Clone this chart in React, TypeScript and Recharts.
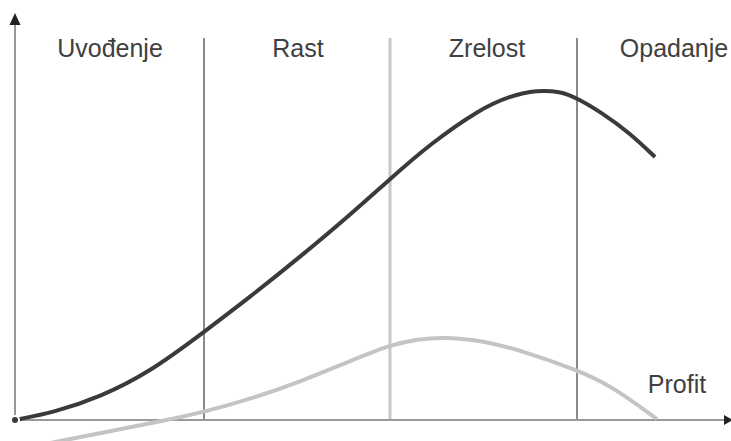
import React from 'react';
import { LineChart, Line, XAxis, YAxis, ReferenceLine, ReferenceDot } from 'recharts';

// Stage labels
const stages = ['Uvođenje', 'Rast', 'Zrelost', 'Opadanje'];
const profitLabel = 'Profit';

// Sales curve (time, value)
const salesTime = [0, 40, 85, 135, 189, 235, 285, 335, 375, 415, 465, 495, 522, 545, 562, 585, 615, 640];
const salesValue = [0, 8, 23, 48, 88, 123, 163, 205, 241, 276, 311, 324, 330, 328.5, 322, 308.5, 287, 263];

// Profit curve (time, value)
const profitTime = [10, 46, 85, 153, 189, 235, 285, 335, 375, 402, 432, 468, 505, 562, 595, 642];
const profitValue = [-28, -21, -13, 0, 8, 21, 38, 59, 75, 81, 83, 79, 70, 50, 35, 1];

// Stage boundaries (time)
const boundaries = [189, 375, 562];

const salesData = salesTime.map((t, i) => ({ t, v: salesValue[i] }));
const profitData = profitTime.map((t, i) => ({ t, v: profitValue[i] }));

const X_DOMAIN: [number, number] = [-15, 716];
const Y_DOMAIN: [number, number] = [-21, 420];
const AXIS_X_END = 709;
const AXIS_Y_END = 395;
const DIVIDER_TOP = 382;
const LABEL_X = [95, 283, 472, 659];
const LABEL_Y = 363;
const FONT = '"Liberation Sans", Arial, sans-serif';

const upArrow = (p: any) => (
  <polygon points={`${p.cx},${p.cy - 12} ${p.cx - 5.5},${p.cy} ${p.cx + 5.5},${p.cy}`} fill="#222" />
);
const rightArrow = (p: any) => (
  <polygon points={`${p.cx + 9},${p.cy} ${p.cx},${p.cy - 5} ${p.cx},${p.cy + 5}`} fill="#222" />
);
const textShape = (txt: string, size: number) => (p: any) => (
  <text x={p.cx} y={p.cy} textAnchor="middle" fontSize={size} fontFamily={FONT} fill="#404040">
    {txt}
  </text>
);

export default function App() {
  return (
    <div style={{ position: 'absolute', left: 0, top: 0, width: 731, height: 441, background: '#fff' }}>
      <LineChart width={731} height={441} margin={{ top: 0, right: 0, bottom: 0, left: 0 }}>
        <XAxis type="number" dataKey="t" domain={X_DOMAIN} hide allowDataOverflow />
        <YAxis type="number" dataKey="v" domain={Y_DOMAIN} hide allowDataOverflow />
        {boundaries.map((b, i) => (
          <ReferenceLine
            key={b}
            segment={[{ x: b, y: 0 }, { x: b, y: DIVIDER_TOP }]}
            stroke={i === 1 ? '#c8c8c8' : '#8a8a8a'}
            strokeWidth={i === 1 ? 3 : 2}
            ifOverflow="visible"
          />
        ))}
        <ReferenceLine segment={[{ x: 0, y: 0 }, { x: 0, y: AXIS_Y_END }]} stroke="#999" strokeWidth={2} ifOverflow="visible" />
        <ReferenceLine segment={[{ x: 0, y: 0 }, { x: AXIS_X_END, y: 0 }]} stroke="#999" strokeWidth={2} ifOverflow="visible" />
        <ReferenceDot x={0} y={AXIS_Y_END} r={0} shape={upArrow} ifOverflow="visible" />
        <ReferenceDot x={AXIS_X_END} y={0} r={0} shape={rightArrow} ifOverflow="visible" />
        <Line data={profitData} dataKey="v" type="basis" stroke="#c4c4c4" strokeWidth={4} dot={false} isAnimationActive={false} />
        <Line data={salesData} dataKey="v" type="basis" stroke="#3a3a3a" strokeWidth={4} dot={false} isAnimationActive={false} />
        {stages.map((s, i) => (
          <ReferenceDot key={s} x={LABEL_X[i]} y={LABEL_Y} r={0} shape={textShape(s, 25)} ifOverflow="visible" />
        ))}
        <ReferenceDot x={662} y={27} r={0} shape={textShape(profitLabel, 25)} ifOverflow="visible" />
      </LineChart>
    </div>
  );
}
